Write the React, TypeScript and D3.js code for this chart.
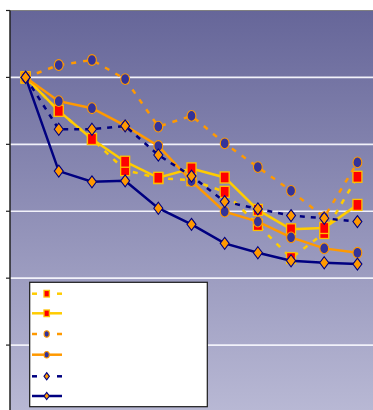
import React from "react";
import * as d3 from "d3";

const categories = ["1", "2", "3", "4", "5", "6", "7", "8", "9", "10", "11"];
const yellowDashed = [100, 90, 81.6, 72.3, 69.9, 69.3, 65.8, 55.9, 46.0, 53.5, 70.3];
const yellowSolid = [100, 90, 81.6, 74.8, 70.0, 72.8, 70.1, 60.4, 54.6, 55.0, 61.9];
const orangeDashed = [100, 103.7, 105.2, 99.5, 85.3, 88.5, 80.3, 73.2, 66.1, 58.2, 74.6];
const orangeSolid = [100, 92.9, 90.8, 85.6, 79.5, 69.0, 59.9, 56.9, 52.2, 48.9, 47.6];
const navyDashed = [100, 84.5, 84.5, 85.5, 76.8, 70.5, 62.9, 60.7, 58.7, 57.9, 56.9];
const navySolid = [100, 72.0, 68.8, 69.1, 60.9, 56.1, 50.4, 47.6, 45.2, 44.6, 44.2];
const yTicks = [0, 20, 40, 60, 80, 100, 120];

type Marker = "square" | "circle" | "diamond";
interface Series {
  values: number[];
  color: string;
  dash: string | null;
  marker: Marker;
}

const series: Series[] = [
  { values: yellowDashed, color: "#ffcc00", dash: "5,7", marker: "square" },
  { values: yellowSolid, color: "#ffcc00", dash: null, marker: "square" },
  { values: orangeDashed, color: "#ff9900", dash: "5,7", marker: "circle" },
  { values: orangeSolid, color: "#ff9900", dash: null, marker: "circle" },
  { values: navyDashed, color: "#000080", dash: "5,6", marker: "diamond" },
  { values: navySolid, color: "#000080", dash: null, marker: "diamond" },
];

function MarkerShape({ type, x, y, s = 1 }: { type: Marker; x: number; y: number; s?: number }) {
  if (type === "square") {
    const w = 9 * s, h = 11 * s;
    return <rect x={x - w / 2} y={y - h / 2} width={w} height={h} fill="#ff0000" stroke="#ffc000" strokeWidth={1.3} />;
  }
  if (type === "circle") {
    return <ellipse cx={x} cy={y} rx={4.4 * s} ry={5.4 * s} fill="#333399" stroke="#ff9900" strokeWidth={1.1} />;
  }
  const hw = 4.5 * s, hh = 6 * s;
  return (
    <path
      d={`M${x},${y - hh}L${x + hw},${y}L${x},${y + hh}L${x - hw},${y}Z`}
      fill="#ff9900"
      stroke="#000080"
      strokeWidth={1.1}
    />
  );
}

export default function App() {
  const W = 373, H = 410;
  const left = 10, top = 10.5;
  const x = d3.scalePoint<string>().domain(categories).range([9, 374]).padding(0.5);
  const y = d3.scaleLinear().domain([0, 120]).range([412, top]);
  const line = d3
    .line<number>()
    .x((_, i) => x(categories[i]) as number)
    .y((d) => y(d));

  const legend = { x: 29.7, y: 282.3, w: 177.6, h: 124.4 };
  const legendRowY = [293.7, 313.3, 334, 354.7, 376.3, 396];

  return (
    <svg
      width={W}
      height={H}
      style={{ position: "absolute", left: 0, top: 0, display: "block" }}
    >
      <defs>
        <linearGradient id="bg" x1="0" y1={top} x2="0" y2={H} gradientUnits="userSpaceOnUse">
          <stop offset="0" stopColor="#666699" />
          <stop offset="1" stopColor="#b8b8d4" />
        </linearGradient>
        <clipPath id="plotClip">
          <rect x={left} y={top} width={W - left} height={H - top} />
        </clipPath>
      </defs>
      <rect x={0} y={0} width={W} height={H} fill="#ffffff" />
      <rect x={left} y={top} width={W - left} height={H - top} fill="url(#bg)" />
      {yTicks.filter((t) => t > 0 && t < 120).map((t) => (
        <line key={t} x1={left} x2={W} y1={y(t)} y2={y(t)} stroke="#f2f2fa" strokeWidth={1.6} />
      ))}
      <line x1={left} x2={W} y1={top} y2={top} stroke="#808080" strokeWidth={1.2} />
      <line x1={left} x2={left} y1={top} y2={H} stroke="#222222" strokeWidth={1.5} />
      {yTicks.map((t) => (
        <line key={"t" + t} x1={6} x2={left} y1={y(t)} y2={y(t)} stroke="#222222" strokeWidth={1.2} />
      ))}
      <g clipPath="url(#plotClip)">
        {series.map((s, si) => (
          <g key={si}>
            <path
              d={line(s.values) || ""}
              fill="none"
              stroke={s.color}
              strokeWidth={2.5}
              strokeDasharray={s.dash || undefined}
            />
            {s.values.map((v, i) => (
              <MarkerShape key={i} type={s.marker} x={x(categories[i]) as number} y={y(v)} />
            ))}
          </g>
        ))}
      </g>
      <rect x={legend.x} y={legend.y} width={legend.w} height={legend.h} fill="#ffffff" stroke="#1a1a1a" strokeWidth={1.2} />
      {series.map((s, si) => {
        const ly = legendRowY[si];
        return (
          <g key={"lg" + si}>
            {s.dash ? (
              <>
                <line x1={32} x2={37} y1={ly} y2={ly} stroke={s.color} strokeWidth={2.5} />
                <line x1={57} x2={62} y1={ly} y2={ly} stroke={s.color} strokeWidth={2.5} />
              </>
            ) : (
              <line x1={32} x2={62} y1={ly} y2={ly} stroke={s.color} strokeWidth={2.5} />
            )}
            <MarkerShape type={s.marker} x={46.7} y={ly} s={0.6} />
          </g>
        );
      })}
    </svg>
  );
}
